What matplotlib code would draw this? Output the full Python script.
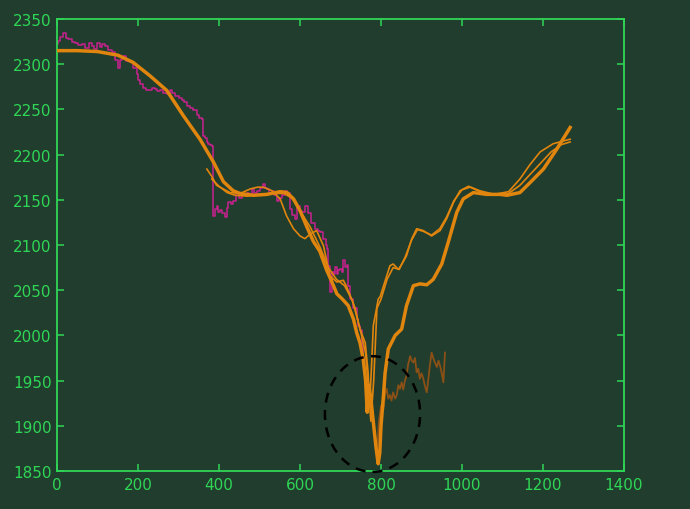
import matplotlib
matplotlib.use("Agg")
import matplotlib.pyplot as plt
from matplotlib.patches import Ellipse
from matplotlib import font_manager

# ---------------- data ----------------
mag_x = [0, 3, 8, 16, 22, 28, 36, 44, 52, 61, 70, 78, 86, 92, 98, 105, 112, 119, 127, 135,
         143, 151, 155, 160, 170, 180, 188, 197, 200, 206, 213, 220, 226, 234, 242, 248, 254, 262, 271, 279,
         285, 291, 300, 308, 314, 320, 328, 337, 345, 351, 357, 361, 366, 370, 374, 378, 383, 385, 386, 390,
         394, 398, 402, 408, 415, 419, 423, 430, 435, 443, 450, 457, 468, 475, 481, 487, 493, 500, 509, 514,
         518, 524, 530, 536, 542, 549, 555, 563, 567, 571, 575, 580, 588, 592, 600, 606, 612, 620, 628, 637,
         644, 650, 658, 663, 667, 670, 674, 678, 683, 687, 691, 695, 699, 703, 707, 711, 716, 719, 724, 732,
         740, 744, 748, 752, 754, 756, 758]
mag_y = [2322, 2326, 2330, 2334, 2329, 2328, 2325, 2324, 2321, 2322, 2318, 2323, 2320, 2317, 2324, 2319, 2322, 2320, 2316, 2313,
         2305, 2296, 2305, 2309, 2304, 2302, 2296, 2289, 2283, 2278, 2274, 2272, 2271, 2274, 2273, 2270, 2271, 2268, 2267, 2271,
         2268, 2265, 2263, 2260, 2258, 2254, 2252, 2249, 2244, 2241, 2239, 2221, 2218, 2214, 2212, 2211, 2210, 2190, 2132, 2140,
         2143, 2137, 2139, 2135, 2131, 2141, 2148, 2145, 2149, 2155, 2152, 2156, 2158, 2155, 2162, 2158, 2160, 2163, 2167, 2163,
         2162, 2158, 2160, 2155, 2149, 2152, 2155, 2160, 2157, 2158, 2140, 2133, 2129, 2143, 2138, 2136, 2143, 2135, 2124, 2118,
         2116, 2114, 2107, 2100, 2096, 2077, 2048, 2070, 2068, 2076, 2068, 2072, 2074, 2070, 2083, 2076, 2078, 2055, 2040, 2030,
         2018, 2010, 2006, 2003, 1990, 1975, 1960]

fitA_x = [0, 50, 100, 150, 188, 230, 271, 312, 353, 386, 411, 435, 452, 485, 518, 551, 568, 584, 600, 617,
          633, 649, 666, 678, 691, 705, 719, 732, 740, 748, 756, 762, 766, 770, 775, 782, 788, 793, 797, 800,
          806, 810, 818, 826, 835, 851, 863, 880, 896, 913, 929, 950, 966, 987, 1003, 1028, 1061, 1094, 1111, 1143,
          1168, 1201, 1234, 1267]
fitA_y = [2315, 2315, 2314, 2310, 2302, 2287, 2271, 2243, 2217, 2192, 2170, 2160, 2157, 2155, 2156, 2159, 2158, 2151, 2138, 2120,
          2104, 2093, 2072, 2060, 2046, 2040, 2033, 2018, 2003, 1992, 1974, 1950, 1915, 1945, 1930, 1900, 1875, 1858, 1870, 1900,
          1933, 1958, 1985, 1992, 2000, 2007, 2033, 2055, 2057, 2056, 2062, 2079, 2103, 2136, 2151, 2158, 2156, 2156, 2155, 2158,
          2169, 2184, 2206, 2230]

fitB_x = [370, 382, 394, 411, 427, 452, 477, 495, 509, 531, 551, 567, 584, 600, 612, 625, 641, 658, 674, 691,
          707, 715, 724, 736, 748, 761, 768, 772, 776, 781, 787, 793, 798, 810, 822, 830, 843, 853, 863, 876,
          888, 904, 925, 946, 962, 979, 995, 1016, 1044, 1080, 1115, 1143, 1168, 1193, 1225, 1250, 1267]
fitB_y = [2184, 2176, 2166, 2162, 2158, 2157, 2162, 2164, 2164, 2160, 2151, 2132, 2118, 2110, 2107, 2112, 2116, 2099, 2066, 2059,
          2061, 2054, 2044, 2030, 2007, 1992, 1960, 1925, 1960, 2011, 2025, 2040, 2043, 2060, 2077, 2079, 2073, 2080, 2088, 2107,
          2118, 2116, 2110, 2116, 2129, 2147, 2160, 2165, 2160, 2156, 2159, 2173, 2189, 2203, 2212, 2215, 2217]

fitC_x = [382, 400, 420, 440, 470, 500, 530, 560, 580, 600, 625, 650, 670, 690, 710, 730, 750, 762, 768, 775,
          782, 790, 800, 815, 830, 845, 860, 875, 890, 905, 925, 945, 962, 980, 1000, 1020, 1044, 1080, 1115, 1143,
          1168, 1193, 1220, 1245, 1267]
fitC_y = [2173, 2165, 2158, 2155, 2154, 2156, 2157, 2157, 2152, 2138, 2120, 2097, 2075, 2062, 2055, 2038, 2004, 1980, 1945, 1905,
          1950, 2030, 2040, 2062, 2075, 2073, 2087, 2105, 2117, 2115, 2111, 2118, 2131, 2149, 2161, 2164, 2159, 2155, 2157, 2166,
          2178, 2190, 2203, 2211, 2214]

pred_x = [790, 795, 800, 806, 810, 814, 818, 822, 826, 830, 835, 839, 843, 847, 851, 855, 859, 863, 867,
          872, 876, 880, 884, 888, 892, 896, 900, 904, 908, 913, 917, 921, 925, 929, 933, 938, 942, 946, 950,
          954, 958]
pred_y = [1870, 1905, 1922, 1919, 1935, 1941, 1930, 1934, 1928, 1937, 1930, 1934, 1945, 1941, 1948, 1940, 1950, 1955, 1968,
          1977, 1972, 1970, 1975, 1959, 1963, 1952, 1958, 1953, 1945, 1937, 1952, 1968, 1981, 1975, 1970, 1965, 1972, 1966, 1958,
          1948, 1981]

circle_center = (779, 1913)
circle_size = (235, 128)

xticks = [0, 200, 400, 600, 800, 1000, 1200, 1400]
yticks = [1850, 1900, 1950, 2000, 2050, 2100, 2150, 2200, 2250, 2300, 2350]

# ---------------- style ----------------
BG = '#213d2d'
GREEN = '#2fd656'
MAGENTA = '#c9228f'
ORANGE = '#e0850e'
BROWN = '#8a5016'

avail = {f.name for f in font_manager.fontManager.ttflist}
fam = 'Liberation Sans Narrow' if 'Liberation Sans Narrow' in avail else 'DejaVu Sans'
plt.rcParams['font.family'] = [fam, 'DejaVu Sans']

fig = plt.figure(figsize=(6.9, 5.1), dpi=100, facecolor=BG)
ax = fig.add_axes([57/690, 38/510, 567/690, 452/510], facecolor=BG)

ax.plot(mag_x, mag_y, color=MAGENTA, lw=1.1, drawstyle='steps-post', zorder=2)
ax.plot(pred_x, pred_y, color=BROWN, lw=1.3, zorder=3)
ax.plot(fitC_x, fitC_y, color=ORANGE, lw=1.2, zorder=4)
ax.plot(fitB_x, fitB_y, color=ORANGE, lw=1.2, zorder=4)
ax.plot(fitA_x, fitA_y, color=ORANGE, lw=2.5, zorder=5, solid_joinstyle='round')

ell = Ellipse(circle_center, circle_size[0], circle_size[1], fill=False, edgecolor='black',
              lw=1.8, linestyle=(0, (4, 3)), zorder=6, clip_on=False)
ax.add_patch(ell)

ax.set_xlim(0, 1400)
ax.set_ylim(1850, 2350)
ax.set_xticks(xticks)
ax.set_yticks(yticks)
ax.tick_params(axis='both', which='both', direction='in', length=5, width=1.1, color=GREEN,
               labelcolor=GREEN, labelsize=11, top=True, right=True, pad=4)
for s in ax.spines.values():
    s.set_color(GREEN)
    s.set_linewidth(1.3)

fig.savefig('out.png', dpi=100, facecolor=BG)
